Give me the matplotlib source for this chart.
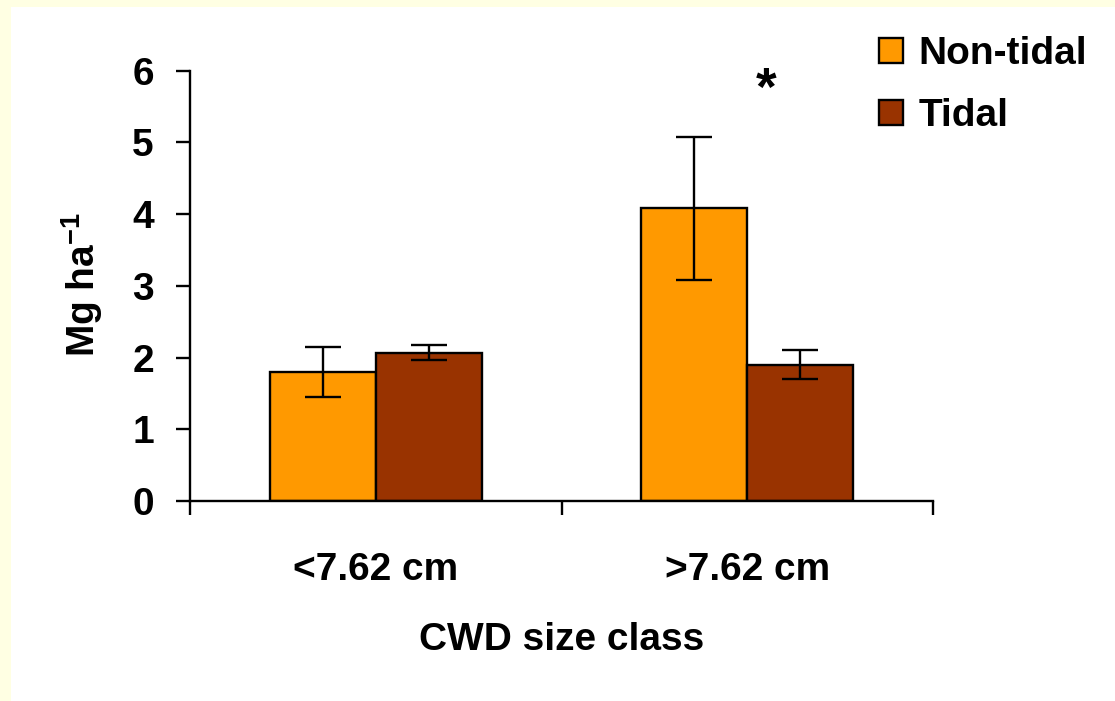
import matplotlib
matplotlib.use("Agg")
import matplotlib.pyplot as plt
from matplotlib.patches import Rectangle
import numpy as np

categories = ["<7.62 cm", ">7.62 cm"]
series_names = ["Non-tidal", "Tidal"]
non_tidal = [1.80, 4.08]
non_tidal_err = [0.35, 1.00]
tidal = [2.07, 1.90]
tidal_err = [0.11, 0.20]
yticks = [0, 1, 2, 3, 4, 5, 6]
colors = ["#FF9900", "#993300"]

plt.rcParams["font.family"] = ["Liberation Sans", "DejaVu Sans"]
plt.rcParams["font.weight"] = "bold"
plt.rcParams["mathtext.fontset"] = "custom"
plt.rcParams["mathtext.rm"] = "Liberation Sans:bold"
plt.rcParams["mathtext.bf"] = "Liberation Sans:bold"
plt.rcParams["mathtext.it"] = "Liberation Sans:bold"

FS = 28
fig = plt.figure(figsize=(11.15, 7.01), dpi=100, facecolor="#FFFFE3")
fig.patches.append(Rectangle((11 / 1115, 0), 1 - 11 / 1115, 1 - 7 / 701,
                             transform=fig.transFigure, facecolor="white",
                             edgecolor="none", zorder=-10))

ax = fig.add_axes([190 / 1115, 1 - 501 / 701, 743 / 1115, 430.3 / 701])
ax.set_facecolor("none")

x = np.arange(len(categories))
w = 0.2857
ekw = dict(elinewidth=1.7, capthick=1.7, ecolor="black")
ax.bar(x - w / 2, non_tidal, w, color=colors[0], edgecolor="black",
       linewidth=1.7, yerr=non_tidal_err, capsize=13, error_kw=ekw,
       label=series_names[0], zorder=2)
ax.bar(x + w / 2, tidal, w, color=colors[1], edgecolor="black",
       linewidth=1.7, yerr=tidal_err, capsize=13, error_kw=ekw,
       label=series_names[1], zorder=2)

ax.set_xlim(-0.5, 1.5)
ax.set_ylim(0, 6)
ax.set_yticks(yticks)
ax.set_yticklabels([str(t) for t in yticks], fontsize=FS, fontweight="bold")
ax.tick_params(axis="y", length=10, width=1.7, pad=16, direction="out")

ax.set_xticks([-0.5, 0.5, 1.5])
ax.set_xticklabels(["", "", ""])
ax.tick_params(axis="x", which="major", length=10, width=1.7, direction="out")
ax.set_xticks(x, minor=True)
ax.set_xticklabels(categories, minor=True, fontsize=FS, fontweight="bold")
ax.tick_params(axis="x", which="minor", length=0, pad=37)

for s in ["top", "right"]:
    ax.spines[s].set_visible(False)
for s in ["left", "bottom"]:
    ax.spines[s].set_linewidth(1.7)

ax.set_xlabel("CWD size class", fontsize=FS, fontweight="bold", va="center")
ax.xaxis.set_label_coords(0.5, -0.322)
ax.set_ylabel(r"Mg ha$^{-1}$", fontsize=FS, fontweight="bold", va="center")
ax.yaxis.set_label_coords(-0.145, 0.504)

ax.text(1.05, 5.72, "*", fontsize=38, fontweight="bold",
        ha="center", va="center")

leg = fig.legend(loc="upper left", bbox_to_anchor=(879 / 1115, 1 - 36 / 701),
                 frameon=False, fontsize=FS, handlelength=0.62,
                 handleheight=0.62, handletextpad=0.4, labelspacing=0.68,
                 borderpad=0, borderaxespad=0)
for t in leg.get_texts():
    t.set_fontweight("bold")

fig.savefig("out.png", dpi=100, facecolor=fig.get_facecolor())
